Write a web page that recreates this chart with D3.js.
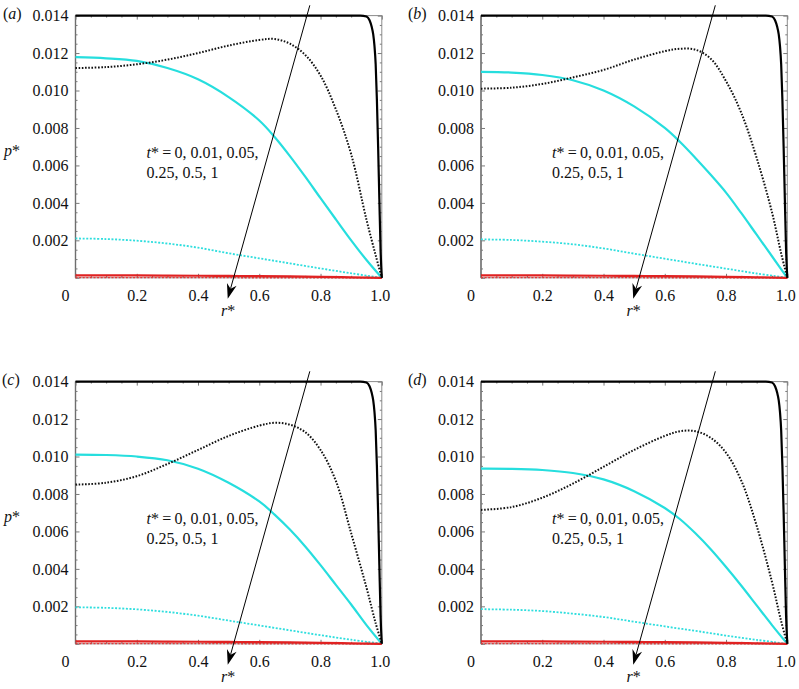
<!DOCTYPE html>
<html><head><meta charset="utf-8">
<script src="https://cdn.jsdelivr.net/npm/d3@7"></script>
<style>
body{margin:0;background:#fff}
svg{display:block}
svg text{font-family:"Liberation Serif","Times New Roman","DejaVu Serif",serif}
</style>
</head><body><svg id="c" width="799" height="689"></svg>
<script>
// ---------- data ----------
const xTicks = [0, 0.2, 0.4, 0.6, 0.8, 1.0];
const xTickLabels = ["0", "0.2", "0.4", "0.6", "0.8", "1.0"];
const yTicks = [0.002, 0.004, 0.006, 0.008, 0.010, 0.012, 0.014];
const yTickLabels = ["0.002", "0.004", "0.006", "0.008", "0.010", "0.012", "0.014"];
const times = ["0", "0.01", "0.05", "0.25", "0.5", "1"];
const panelLabels = ["a", "b", "c", "d"];

// t* = 0 (black solid), common to all panels
const rStep = [0, 0.93, 0.95, 0.96, 0.967, 0.972, 0.976, 0.98, 0.984, 0.988, 0.992, 0.996, 1];
const pStep = [0.014, 0.014, 0.01395, 0.01375, 0.0134, 0.0130, 0.0124, 0.0114, 0.0095, 0.0070, 0.0042, 0.0015, 0];

// t* = 0.01 (black dotted)
const rDotted = [0, 0.1, 0.2, 0.3, 0.4, 0.5, 0.6, 0.65, 0.7, 0.75, 0.8, 0.85, 0.9, 0.95, 0.98, 1];
const dottedA = [0.0112, 0.01125, 0.0114, 0.01165, 0.0120, 0.0124, 0.0127, 0.01275, 0.0125, 0.0119, 0.0108, 0.0090, 0.0066, 0.0031, 0.0012, 0];
const dottedB = [0.0101, 0.01015, 0.01035, 0.0107, 0.0111, 0.01165, 0.0121, 0.01223, 0.01218, 0.0117, 0.0105, 0.0088, 0.0064, 0.0035, 0.0013, 0];
const dottedC = [0.0085, 0.0086, 0.00895, 0.0096, 0.01035, 0.0111, 0.01165, 0.0118, 0.0117, 0.0113, 0.01035, 0.0087, 0.0059, 0.0030, 0.0011, 0];
const dottedD = [0.00715, 0.0073, 0.0078, 0.00855, 0.00945, 0.01035, 0.0111, 0.01135, 0.01135, 0.0110, 0.0102, 0.0087, 0.0063, 0.0033, 0.0012, 0];

// t* = 0.05 (cyan solid)
const rCyan = [0, 0.1, 0.2, 0.3, 0.4, 0.5, 0.6, 0.65, 0.7, 0.75, 0.8, 0.85, 0.9, 0.95, 1];
const cyanA = [0.01178, 0.01172, 0.01158, 0.0112, 0.0106, 0.00965, 0.00840, 0.00752, 0.0065, 0.0054, 0.00425, 0.00312, 0.0020, 0.00095, 0];
const cyanB = [0.0110, 0.01096, 0.01083, 0.01055, 0.0100, 0.00915, 0.0080, 0.00725, 0.0064, 0.0055, 0.00455, 0.00345, 0.0023, 0.00115, 0];
const cyanC = [0.0101, 0.01008, 0.0100, 0.0098, 0.00935, 0.0086, 0.0076, 0.0069, 0.0061, 0.0052, 0.0042, 0.00315, 0.0021, 0.0010, 0];
const cyanD = [0.00935, 0.00934, 0.00928, 0.00912, 0.00878, 0.00815, 0.00725, 0.00665, 0.0059, 0.00505, 0.0041, 0.0031, 0.00205, 0.0010, 0];

// t* = 0.25 (cyan dotted), t* = 0.5 (red solid), t* = 1 (red dotted)
const rLow = [0, 0.1, 0.2, 0.3, 0.4, 0.5, 0.6, 0.7, 0.8, 0.9, 1];
const cyanDotA = [0.0021, 0.00207, 0.00198, 0.00183, 0.00161, 0.00131, 0.00104, 0.00077, 0.0005, 0.00024, 0];
const cyanDotB = [0.00205, 0.00202, 0.00193, 0.00179, 0.00157, 0.00129, 0.00102, 0.00075, 0.00049, 0.00023, 0];
const cyanDotC = [0.00195, 0.00192, 0.00184, 0.0017, 0.0015, 0.00124, 0.00098, 0.00072, 0.00046, 0.00022, 0];
const cyanDotD = [0.00185, 0.00182, 0.00175, 0.00161, 0.00143, 0.00118, 0.00093, 0.00069, 0.00044, 0.00021, 0];
const redSolid = [0.00013, 0.00013, 0.000125, 0.000118, 0.00011, 0.0001, 0.00009, 0.000072, 0.00005, 0.000025, 0];
const redDot = [0.00001, 0.00001, 0.00001, 0.000009, 0.000008, 0.000007, 0.000006, 0.000005, 0.000003, 0.000002, 0];

// arrow annotation (data coordinates: from, to)
const arrowFrom = [0.765, 0.01455];
const arrowTo = [0.497, -0.00112];

// ---------- drawing ----------
const svg = d3.select('#c');
const W = 306.3, H = 262.2;
const panels = [
  {left: 75.5, top: 15.6, dotted: dottedA, cyan: cyanA, cyanDot: cyanDotA, yTitle: true, lx: 3},
  {left: 481,  top: 15.6, dotted: dottedB, cyan: cyanB, cyanDot: cyanDotB, yTitle: false, lx: 408},
  {left: 75.5, top: 381.6, dotted: dottedC, cyan: cyanC, cyanDot: cyanDotC, yTitle: true, lx: 2},
  {left: 481,  top: 381.6, dotted: dottedD, cyan: cyanD, cyanDot: cyanDotD, yTitle: false, lx: 408}
];
const zip = (rs, vs) => rs.map((r, i) => [r, vs[i]]);

const xMajor = d3.range(0, 6).map(i => i * 0.2);
const xMinor = d3.range(0, 21).filter(i => i % 4 !== 0).map(i => i * 0.05);
const yMajor = d3.range(0, 8).map(i => i * 0.002);
const yMinor = d3.range(0, 29).filter(i => i % 4 !== 0).map(i => i * 0.0005);

panels.forEach((p, pi) => {
  const g = svg.append('g').attr('transform', `translate(${p.left},${p.top})`);
  const x = d3.scaleLinear().domain([0, 1]).range([0, W]);
  const y = d3.scaleLinear().domain([0, 0.014]).range([H, 0]);

  // frame
  g.append('rect').attr('width', W).attr('height', H)
    .attr('fill', 'none').attr('stroke', '#8c8c8c').attr('stroke-width', 1);
  g.append('line').attr('x1', 0).attr('x2', 0).attr('y1', 0).attr('y2', H)
    .attr('stroke', '#6e6e6e').attr('stroke-width', 1.4);

  const tickAxis = (axisFn, scale, vals, size, tr) => {
    const a = g.append('g').attr('transform', tr)
      .call(axisFn(scale).tickValues(vals).tickSize(-size).tickFormat(''));
    a.select('.domain').remove();
    a.selectAll('line').attr('stroke', '#7a7a7a').attr('stroke-width', 1);
  };
  tickAxis(d3.axisLeft, y, yMajor, 4, 'translate(0,0)');
  tickAxis(d3.axisLeft, y, yMinor, 2, 'translate(0,0)');
  tickAxis(d3.axisRight, y, yMajor, 4, `translate(${W},0)`);
  tickAxis(d3.axisRight, y, yMinor, 2, `translate(${W},0)`);
  tickAxis(d3.axisBottom, x, xMajor, 4, `translate(0,${H})`);
  tickAxis(d3.axisBottom, x, xMinor, 2, `translate(0,${H})`);
  tickAxis(d3.axisTop, x, xMajor, 4, 'translate(0,0)');
  tickAxis(d3.axisTop, x, xMinor, 2, 'translate(0,0)');

  // tick labels
  const yl = g.append('g')
    .call(d3.axisLeft(y).tickValues(yTicks).tickFormat((d, i) => yTickLabels[i]).tickSize(0).tickPadding(7));
  yl.select('.domain').remove();
  yl.attr('font-family', null).attr('font-size', 16);
  yl.selectAll('text').attr('fill', '#111');

  const xl = g.append('g').attr('transform', `translate(0,${H})`)
    .call(d3.axisBottom(x).tickValues(xTicks).tickFormat((d, i) => xTickLabels[i]).tickSize(0).tickPadding(11.5));
  xl.select('.domain').remove();
  xl.attr('font-family', null).attr('font-size', 16);
  xl.selectAll('text').attr('fill', '#111')
    .attr('dx', (d, i) => i === 0 ? -10.5 : (i === xTicks.length - 1 ? -2 : 0));

  // curves
  const smooth = d3.line().x(d => x(d[0])).y(d => y(d[1])).curve(d3.curveCatmullRom.alpha(0.5));
  const mono = d3.line().x(d => x(d[0])).y(d => y(d[1])).curve(d3.curveMonotoneX);
  const series = [
    {d: zip(rLow, p.cyanDot), stroke: '#2fdede', w: 1.8, dash: '2,1.6', gen: smooth},
    {d: zip(rCyan, p.cyan), stroke: '#26dede', w: 2.2, dash: null, gen: smooth},
    {d: zip(rLow, redDot), stroke: '#e23a3a', w: 1.4, dash: '2,1.6', gen: mono},
    {d: zip(rLow, redSolid), stroke: '#e02222', w: 2.2, dash: null, gen: mono},
    {d: zip(rDotted, p.dotted), stroke: '#111', w: 2, dash: '1.6,1.6', gen: smooth},
    {d: zip(rStep, pStep), stroke: '#000', w: 2.2, dash: null, gen: mono}
  ];
  series.forEach(s => {
    g.append('path').attr('d', s.gen(s.d)).attr('fill', 'none')
      .attr('stroke', s.stroke).attr('stroke-width', s.w)
      .attr('stroke-dasharray', s.dash);
  });

  // arrow
  const a0 = [x(arrowFrom[0]), y(arrowFrom[1])];
  const a1 = [x(arrowTo[0]), y(arrowTo[1])];
  const dx = a1[0] - a0[0], dy = a1[1] - a0[1];
  const len = Math.hypot(dx, dy);
  const u = [dx / len, dy / len], n = [-u[1], u[0]];
  const L = 15, HW = 5, notch = 4.5;
  const back = [a1[0] - (L - notch) * u[0], a1[1] - (L - notch) * u[1]];
  g.append('line').attr('x1', a0[0]).attr('y1', a0[1]).attr('x2', back[0]).attr('y2', back[1])
    .attr('stroke', '#000').attr('stroke-width', 1);
  const head = [
    a1,
    [a1[0] - L * u[0] + HW * n[0], a1[1] - L * u[1] + HW * n[1]],
    back,
    [a1[0] - L * u[0] - HW * n[0], a1[1] - L * u[1] - HW * n[1]]
  ];
  g.append('path').attr('d', 'M' + head.map(q => q.join(',')).join('L') + 'Z').attr('fill', '#000');

  // annotation text
  const t = g.append('text').attr('font-size', 16).attr('fill', '#111');
  t.append('tspan').attr('x', x(0.232)).attr('y', y(0.00637))
    .html(`<tspan font-style="italic">t</tspan>*\u2009=\u2009${times.slice(0, 3).join(', ')},`);
  t.append('tspan').attr('x', x(0.232)).attr('y', y(0.00533))
    .text(`${times.slice(3).join(', ')}`);

  // panel label
  const pl = g.append('text').attr('x', p.lx - p.left).attr('y', 3)
    .attr('font-size', 16).attr('fill', '#111');
  pl.append('tspan').text('(');
  pl.append('tspan').attr('font-style', 'italic').text(panelLabels[pi]);
  pl.append('tspan').text(')');

  // axis titles
  if (p.yTitle) {
    const yt = g.append('text').attr('x', 4 - p.left).attr('y', 140)
      .attr('font-size', 16).attr('fill', '#111');
    yt.append('tspan').attr('font-style', 'italic').text('p');
    yt.append('tspan').text('*');
  }
  const xt = g.append('text').attr('x', x(0.498)).attr('y', H + 38).attr('text-anchor', 'middle')
    .attr('font-size', 16).attr('fill', '#111');
  xt.append('tspan').attr('font-style', 'italic').text('r');
  xt.append('tspan').text('*');
});
</script></body></html>
